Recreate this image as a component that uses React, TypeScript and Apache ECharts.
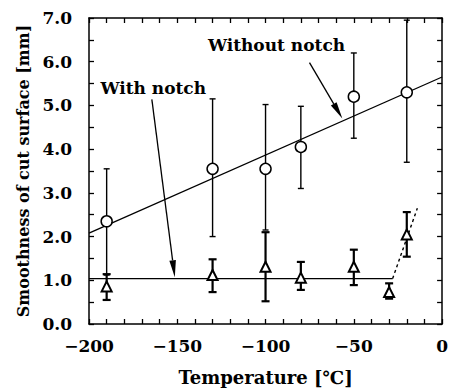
import React, { useEffect, useRef } from 'react';
import * as echarts from 'echarts';

// Without notch (circles)
const tempsWithout = [-190, -130, -100, -80, -50, -20];
const withoutMean = [2.35, 3.55, 3.55, 4.05, 5.2, 5.3];
const withoutLow = [1.12, 2.0, 2.15, 3.1, 4.25, 3.7];
const withoutHigh = [3.55, 5.15, 5.02, 4.98, 6.2, 6.95];

// With notch (triangles)
const tempsWith = [-190, -130, -100, -80, -50, -30, -20];
const withMean = [0.86, 1.12, 1.31, 1.06, 1.31, 0.73, 2.05];
const withLow = [0.55, 0.73, 0.52, 0.78, 0.89, 0.58, 1.54];
const withHigh = [1.14, 1.48, 2.1, 1.42, 1.7, 0.93, 2.56];

// Trend lines
const fitWithoutX = [-200, 0];
const fitWithoutY = [2.08, 5.65];
const fitWithX = [-200, -28];
const fitWithY = [1.04, 1.04];
const dashWithX = [-28, -14];
const dashWithY = [1.04, 2.65];

// Annotations
const labelNames = ['Without notch', 'With notch'];
const labelX = [-93.8, -163.6];
const labelY = [6.39, 5.39];
const arrowStartX = [-75.1, -164.4];
const arrowStartY = [5.98, 5.14];
const arrowEndX = [-56.5, -151.4];
const arrowEndY = [4.7, 1.07];

// Axes
const xMin = -200, xMax = 0, xStep = 50;
const yMin = 0, yMax = 7, yStep = 1;
const xTitle = 'Temperature [℃]';
const yTitle = 'Smoothness of cut surface [mm]';

const FONT = 'DejaVu Serif';

function errorBarSeries(xs: number[], lo: number[], hi: number[], capHalf: number, lw: number) {
  return {
    type: 'custom',
    xAxisIndex: 0,
    yAxisIndex: 0,
    z: 3,
    data: xs.map((x, i) => [x, lo[i], hi[i]]),
    encode: { x: 0, y: [1, 2] },
    renderItem: (params: any, api: any) => {
      const x = api.value(0);
      const pLo = api.coord([x, api.value(1)]);
      const pHi = api.coord([x, api.value(2)]);
      const style = { stroke: '#000', lineWidth: lw };
      return {
        type: 'group',
        children: [
          { type: 'line', shape: { x1: pLo[0], y1: pLo[1], x2: pHi[0], y2: pHi[1] }, style },
          { type: 'line', shape: { x1: pLo[0] - capHalf, y1: pLo[1], x2: pLo[0] + capHalf, y2: pLo[1] }, style },
          { type: 'line', shape: { x1: pHi[0] - capHalf, y1: pHi[1], x2: pHi[0] + capHalf, y2: pHi[1] }, style },
        ],
      };
    },
  };
}

export default function App() {
  const ref = useRef<HTMLDivElement>(null);
  useEffect(() => {
    if (!ref.current) return;
    const chart = echarts.init(ref.current, null, { renderer: 'svg' });
    const fmtX = (v: number) => (v < 0 ? '\u2212' + Math.abs(v) : String(v));
    const baseX = {
      type: 'value',
      min: xMin,
      max: xMax,
      interval: xStep,
      axisLine: { show: true, onZero: false, lineStyle: { color: '#000', width: 1.5 } },
      axisTick: { show: true, inside: true, length: 5, lineStyle: { color: '#000', width: 1.3 } },
      minorTick: { show: true, splitNumber: 5, length: 5, lineStyle: { color: '#000', width: 1.3 } },
      splitLine: { show: false },
    };
    const baseY = {
      type: 'value',
      min: yMin,
      max: yMax,
      interval: yStep,
      axisLine: { show: true, onZero: false, lineStyle: { color: '#000', width: 1.5 } },
      axisTick: { show: true, inside: true, length: 5, lineStyle: { color: '#000', width: 1.3 } },
      minorTick: { show: true, splitNumber: 2, length: 5, lineStyle: { color: '#000', width: 1.3 } },
      splitLine: { show: false },
    };
    const txt = { fontFamily: FONT, fontWeight: 'bold', color: '#000' };
    chart.setOption({
      animation: false,
      textStyle: { fontFamily: FONT },
      grid: { left: 89, right: 8, top: 18, bottom: 65 },
      xAxis: [
        {
          ...baseX,
          position: 'bottom',
          name: xTitle,
          nameLocation: 'middle',
          nameGap: 44,
          nameTextStyle: { ...txt, fontSize: 18 },
          axisLabel: { ...txt, margin: 13, formatter: fmtX, fontSize: 17 },
        },
        { ...baseX, position: 'top', axisLabel: { show: false } },
      ],
      yAxis: [
        {
          ...baseY,
          position: 'left',
          name: yTitle,
          nameLocation: 'middle',
          nameGap: 56,
          nameTextStyle: { ...txt, fontSize: 16 },
          axisLabel: { ...txt, margin: 17, formatter: (v: number) => v.toFixed(1), fontSize: 17 },
        },
        { ...baseY, position: 'right', axisLabel: { show: false } },
      ],
      series: [
        {
          type: 'line',
          data: fitWithoutX.map((x, i) => [x, fitWithoutY[i]]),
          symbol: 'none',
          lineStyle: { color: '#000', width: 1.3 },
          z: 2,
        },
        {
          type: 'line',
          data: fitWithX.map((x, i) => [x, fitWithY[i]]),
          symbol: 'none',
          lineStyle: { color: '#000', width: 1.3 },
          z: 2,
        },
        {
          type: 'line',
          data: dashWithX.map((x, i) => [x, dashWithY[i]]),
          symbol: 'none',
          lineStyle: { color: '#000', width: 1.4, type: [3, 3] },
          z: 2,
        },
        errorBarSeries(tempsWithout, withoutLow, withoutHigh, 3, 1.4),
        errorBarSeries(tempsWith, withLow, withHigh, 4, 2.2),
        {
          type: 'scatter',
          data: tempsWithout.map((x, i) => [x, withoutMean[i]]),
          symbol: 'circle',
          symbolSize: 11,
          itemStyle: { color: '#fff', borderColor: '#000', borderWidth: 1.5, opacity: 1 },
          z: 5,
        },
        {
          type: 'scatter',
          data: tempsWith.map((x, i) => [x, withMean[i]]),
          symbol: 'triangle',
          symbolSize: [10, 10],
          itemStyle: { color: '#fff', borderColor: '#000', borderWidth: 2, opacity: 1 },
          z: 5,
        },
        {
          type: 'custom',
          z: 4,
          data: arrowStartX.map((x, i) => [x, arrowStartY[i], arrowEndX[i], arrowEndY[i]]),
          encode: { x: [0, 2], y: [1, 3] },
          renderItem: (params: any, api: any) => {
            const p1 = api.coord([api.value(0), api.value(1)]);
            const p2 = api.coord([api.value(2), api.value(3)]);
            const dx = p2[0] - p1[0];
            const dy = p2[1] - p1[1];
            const len = Math.hypot(dx, dy);
            const ux = dx / len;
            const uy = dy / len;
            const L = 17;
            const W = 3.3;
            const bx = p2[0] - ux * L;
            const by = p2[1] - uy * L;
            return {
              type: 'group',
              children: [
                { type: 'line', shape: { x1: p1[0], y1: p1[1], x2: bx, y2: by }, style: { stroke: '#000', lineWidth: 1.3 } },
                {
                  type: 'polygon',
                  shape: { points: [[p2[0], p2[1]], [bx - uy * W, by + ux * W], [bx + uy * W, by - ux * W]] },
                  style: { fill: '#000' },
                },
              ],
            };
          },
        },
        {
          type: 'scatter',
          z: 6,
          symbolSize: 1,
          itemStyle: { color: 'rgba(0,0,0,0)', opacity: 1 },
          data: labelNames.map((n, i) => ({ name: n, value: [labelX[i], labelY[i]] })),
          label: {
            ...txt,
            show: true,
            position: 'inside',
            formatter: '{b}',
            fontSize: 17,
            opacity: 1,
            textBorderWidth: 0,
          },
        },
      ],
    });
    return () => chart.dispose();
  }, []);
  return <div ref={ref} style={{ position: 'fixed', left: 0, top: 0, width: 451, height: 391, background: '#fff' }} />;
}
